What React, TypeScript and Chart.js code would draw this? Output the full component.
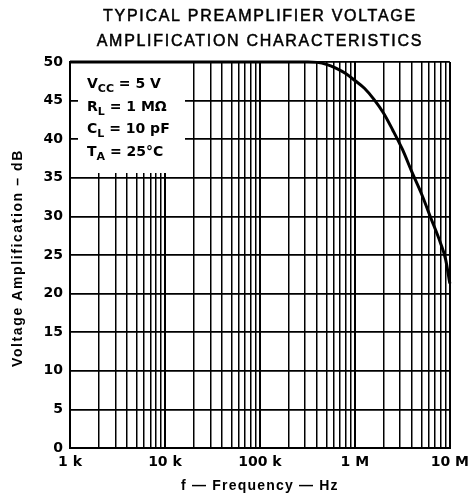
import React, { useEffect, useRef } from "react";
import { Chart, registerables } from "chart.js";

Chart.register(...registerables);

const titleLines = ["TYPICAL PREAMPLIFIER VOLTAGE", "AMPLIFICATION CHARACTERISTICS"];
const xTitle = "f \u2014 Frequency \u2014 Hz";
const yTitle = "Voltage Amplification \u2013 dB";

const decades = [1e3, 1e4, 1e5, 1e6, 1e7];
const decadeLabels = ["1 k", "10 k", "100 k", "1 M", "10 M"];
const multipliers = [1, 2, 3, 4, 5, 6, 7, 8, 9];

const freqHz = [1e3, 1e4, 1e5, 2e5, 3.2e5, 4e5, 5e5, 6.3e5, 8e5, 1e6, 1.26e6, 1.58e6, 2e6, 2.5e6, 3.16e6, 4e6, 5e6, 6.3e6, 8e6, 9e6, 1e7];
const gainDb = [50, 50, 50, 50, 50, 49.95, 49.7, 49.2, 48.5, 47.6, 46.6, 45.2, 43.4, 41.2, 38.7, 35.7, 33.0, 29.8, 26.5, 24.5, 21.3];

const conditions: { main: string; sub: string; rest: string }[] = [
  { main: "V", sub: "CC", rest: " = 5 V" },
  { main: "R", sub: "L", rest: " = 1 M\u03A9" },
  { main: "C", sub: "L", rest: " = 10 pF" },
  { main: "T", sub: "A", rest: " = 25\u00B0C" },
];

const FONT = "'DejaVu Sans', 'Liberation Sans', Arial, sans-serif";
const HFONT = "'Liberation Sans', Arial, Helvetica, sans-serif";

const conditionsBox = {
  id: "conditionsBox",
  beforeDatasetsDraw(chart: any) {
    const { ctx, chartArea } = chart;
    const x0 = chartArea.left + 8;
    const y0 = chartArea.top + 1;
    ctx.save();
    ctx.fillStyle = "#fff";
    ctx.fillRect(x0, y0, 107, 110);
    ctx.fillStyle = "#000";
    ctx.textBaseline = "alphabetic";
    conditions.forEach((c, i) => {
      const by = chartArea.top + 26 + i * 22.5;
      let x = x0 + 9;
      ctx.font = `bold 14px ${FONT}`;
      ctx.fillText(c.main, x, by);
      x += ctx.measureText(c.main).width;
      ctx.font = `bold 11px ${FONT}`;
      ctx.fillText(c.sub, x, by + 4);
      x += ctx.measureText(c.sub).width;
      ctx.font = `bold 14px ${FONT}`;
      ctx.fillText(c.rest, x, by);
    });
    ctx.restore();
  },
};

const titles = {
  id: "titles",
  afterDraw(chart: any) {
    const { ctx, chartArea } = chart;
    const cx = (chartArea.left + chartArea.right) / 2;
    ctx.save();
    ctx.fillStyle = "#000";
    ctx.strokeStyle = "#000";
    ctx.textAlign = "center";
    ctx.textBaseline = "middle";
    ctx.font = `16px ${HFONT}`;
    (ctx as any).letterSpacing = "1.7px";
    ctx.lineWidth = 0.5;
    titleLines.forEach((t, i) => {
      ctx.fillText(t, cx, 17 + i * 25);
      ctx.strokeText(t, cx, 17 + i * 25);
    });
    ctx.font = `bold 14px ${HFONT}`;
    (ctx as any).letterSpacing = "1.2px";
    ctx.fillText(xTitle, cx, chartArea.bottom + 38);
    ctx.translate(18, (chartArea.top + chartArea.bottom) / 2 + 3);
    ctx.rotate(-Math.PI / 2);
    ctx.font = `bold 14px ${HFONT}`;
    (ctx as any).letterSpacing = "1.6px";
    ctx.fillText(yTitle, 0, 0);
    ctx.restore();
  },
};

export default function App() {
  const ref = useRef<HTMLCanvasElement | null>(null);
  useEffect(() => {
    if (!ref.current) return;
    const tickValues: number[] = [];
    decades.forEach((d, i) => {
      if (i === decades.length - 1) {
        tickValues.push(d);
      } else {
        multipliers.forEach((m) => tickValues.push(d * m));
      }
    });
    const chart = new Chart(ref.current, {
      type: "scatter",
      data: {
        datasets: [
          {
            data: freqHz.map((f, i) => ({ x: f, y: gainDb[i] })),
            showLine: true,
            borderColor: "#000",
            borderWidth: 3,
            pointRadius: 0,
            cubicInterpolationMode: "monotone",
            clip: false as any,
          },
        ],
      },
      plugins: [conditionsBox, titles],
      options: {
        animation: false,
        responsive: false,
        layout: { padding: { left: 0, right: 22, top: 62, bottom: 0 } },
        plugins: {
          legend: { display: false },
          tooltip: { enabled: false },
          title: { display: false },
        },
        scales: {
          x: {
            type: "logarithmic",
            min: 1e3,
            max: 1e7,
            afterBuildTicks: (scale: any) => {
              scale.ticks = tickValues.map((v) => ({ value: v }));
            },
            afterFit: (scale: any) => {
              scale.height = 51;
            },
            border: { color: "#000", width: 2 },
            grid: {
              color: "#000",
              lineWidth: (c: any) => (decades.includes(c.tick?.value) ? 2 : 1.5),
              drawTicks: false,
            },
            ticks: {
              color: "#000",
              autoSkip: false,
              maxRotation: 0,
              padding: 6,
              font: { family: FONT, size: 14, weight: "bold" },
              callback: (v: any) => {
                const i = decades.indexOf(Number(v));
                return i >= 0 ? decadeLabels[i] : "";
              },
            },
          },
          y: {
            min: 0,
            max: 50,
            afterFit: (scale: any) => {
              scale.width = 70;
            },
            border: { color: "#000", width: 2 },
            grid: { color: "#000", lineWidth: 1.7, drawTicks: false },
            ticks: {
              stepSize: 5,
              color: "#000",
              padding: 7,
              font: { family: FONT, size: 14, weight: "bold" },
            },
          },
        },
      } as any,
    });
    return () => chart.destroy();
  }, []);
  return (
    <div style={{ position: "absolute", left: 0, top: 0, width: 475, height: 499, background: "#fff" }}>
      <canvas ref={ref} width={475} height={499} />
    </div>
  );
}
